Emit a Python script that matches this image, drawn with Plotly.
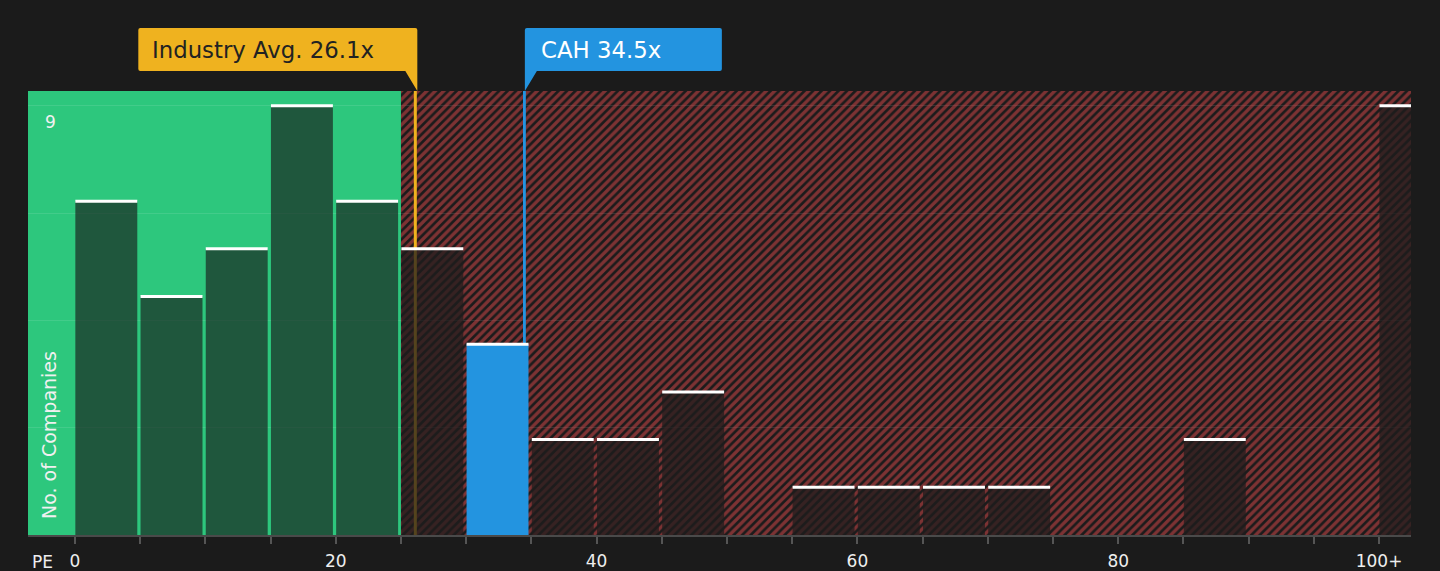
import plotly.graph_objects as go

# ---- data ----
BIN_STARTS = [0, 5, 10, 15, 20, 25, 30, 35, 40, 45, 50, 55, 60, 65, 70, 75, 80, 85, 90, 95, 100]
COUNTS     = [7, 5, 6, 9, 7, 6, 4, 2, 2, 3, 0, 1, 1, 1, 1, 0, 0, 2, 0, 0, 9]
X_TICK_VALS = [0, 5, 10, 15, 20, 25, 30, 35, 40, 45, 50, 55, 60, 65, 70, 75, 80, 85, 90, 95, 100]
X_TICK_TEXT = ["0", "", "", "", "20", "", "", "", "40", "", "", "", "60", "", "", "", "80", "", "", "", "100+"]
Y_TICK_VALS = [0, 2.25, 4.5, 6.75, 9]
Y_TICK_TEXT = ["", "", "", "", "9"]
IND_AVG = 26.1
CAH_PE = 34.5
FAIR_LIMIT = 25
COMPANY = "CAH"

# ---- styling constants ----
BIN_W = 5
BAR_W = 4.75
X_MIN, X_MAX = -3.6, 102.45
Y_MAX = 9.31
BG = "#1b1b1b"
GREEN = "#2dc77d"
RED = "#e04a4c"
BLUE = "#2394e0"
ORANGE = "#efb21f"
FONT = "DejaVu Sans"

bar_colors = []
for s in BIN_STARTS:
    if s <= CAH_PE < s + BIN_W:
        bar_colors.append(BLUE)
    elif s < FAIR_LIMIT:
        bar_colors.append("rgba(26,32,30,0.67)")
    else:
        bar_colors.append("rgba(30,28,28,0.74)")

fig = go.Figure()

# hatched "expensive" region
fig.add_trace(go.Bar(
    x=[(FAIR_LIMIT + X_MAX) / 2], y=[Y_MAX], width=[X_MAX - FAIR_LIMIT],
    marker=dict(color="rgba(0,0,0,0)", line=dict(width=0),
                pattern=dict(shape="/", fgcolor=RED, bgcolor="rgba(0,0,0,0)",
                             size=6, solidity=0.55)),
    hoverinfo="skip", showlegend=False))

# marker lines (drawn under bars)
fig.add_trace(go.Bar(x=[IND_AVG], y=[Y_MAX], width=[0.23],
                     marker=dict(color=ORANGE, line=dict(width=0)),
                     hoverinfo="skip", showlegend=False))
fig.add_trace(go.Bar(x=[CAH_PE], y=[Y_MAX], width=[0.15],
                     marker=dict(color=BLUE, line=dict(width=0)),
                     hoverinfo="skip", showlegend=False))

# histogram bars
fig.add_trace(go.Bar(
    x=[s + BAR_W / 2 + 0.03 for s in BIN_STARTS], y=COUNTS, width=BAR_W,
    marker=dict(color=bar_colors, line=dict(width=0)),
    showlegend=False))

# white caps
cx, cy = [], []
for s, c in zip(BIN_STARTS, COUNTS):
    if c > 0:
        cx += [s + 0.03, s + 0.03 + BAR_W, None]
        cy += [c, c, None]
fig.add_trace(go.Scatter(x=cx, y=cy, mode="lines",
                         line=dict(color="white", width=3),
                         hoverinfo="skip", showlegend=False))

shapes = [
    dict(type="rect", xref="x", yref="paper", x0=X_MIN, x1=FAIR_LIMIT, y0=0, y1=1,
         fillcolor=GREEN, line=dict(width=0), layer="below"),
    # industry avg callout box
    dict(type="path", xref="x", yref="paper", xsizemode="pixel", ysizemode="pixel",
         xanchor=IND_AVG, yanchor=1,
         path="M -277,22 Q -277,20 -275,20 L -10,20 L 2,0 L 2,61 Q 2,63 0,63 "
              "L -275,63 Q -277,63 -277,61 Z",
         fillcolor=ORANGE, line=dict(width=0), layer="above"),
    # company callout box
    dict(type="path", xref="x", yref="paper", xsizemode="pixel", ysizemode="pixel",
         xanchor=CAH_PE, yanchor=1,
         path="M 0,0 L 0,61 Q 0,63 2,63 L 195,63 Q 197,63 197,61 L 197,22 "
              "Q 197,20 195,20 L 12,20 Z",
         fillcolor=BLUE, line=dict(width=0), layer="above"),
]

annotations = [
    dict(text=f"Industry Avg. {IND_AVG}x", xref="x", yref="paper", x=IND_AVG, y=1,
         xanchor="left", yanchor="middle", xshift=-265, yshift=41, showarrow=False,
         font=dict(family=FONT, size=22.8, color="#222222")),
    dict(text=f"{COMPANY} {CAH_PE}x", xref="x", yref="paper", x=CAH_PE, y=1,
         xanchor="left", yanchor="middle", xshift=14, yshift=41, showarrow=False,
         font=dict(family=FONT, size=22.8, color="white")),
    dict(text="No. of Companies", xref="paper", yref="paper", x=0, y=0,
         xanchor="left", yanchor="bottom", xshift=8, yshift=14, textangle=-90,
         showarrow=False, font=dict(family=FONT, size=19, color="#f0f0f0")),
    dict(text="PE", xref="paper", yref="paper", x=0, y=0, xanchor="center",
         yanchor="middle", xshift=14, yshift=-27, showarrow=False,
         font=dict(family=FONT, size=17, color="#eeeeee")),
]

fig.update_layout(
    width=1440, height=571,
    margin=dict(l=28, r=29, t=91, b=36),
    paper_bgcolor=BG, plot_bgcolor=BG,
    barmode="overlay",
    shapes=shapes, annotations=annotations,
    font=dict(family=FONT, color="#eeeeee"),
    xaxis=dict(range=[X_MIN, X_MAX], tickvals=X_TICK_VALS, ticktext=X_TICK_TEXT,
               showgrid=False, zeroline=False, showline=True, linecolor="#4a4a4a",
               linewidth=2, ticks="outside", ticklen=7, tickwidth=1.5,
               tickcolor="#555555", ticklabelstandoff=3, automargin=False,
               tickfont=dict(family=FONT, size=17, color="#eeeeee"),
               fixedrange=True),
    yaxis=dict(range=[0, Y_MAX], tickvals=Y_TICK_VALS, ticktext=Y_TICK_TEXT,
               showgrid=True, gridcolor="rgba(255,255,255,0.10)", gridwidth=1,
               zeroline=False, showline=False, ticks="", automargin=False,
               ticklabelposition="inside bottom", ticklabelstandoff=14,
               ticklabelshift=4,
               tickfont=dict(family=FONT, size=17, color="#f0f0f0"), fixedrange=True),
)

fig.write_html("out.html", config={"displayModeBar": False},
               post_script="document.body.style.margin='0';document.body.style.overflow='hidden';")
